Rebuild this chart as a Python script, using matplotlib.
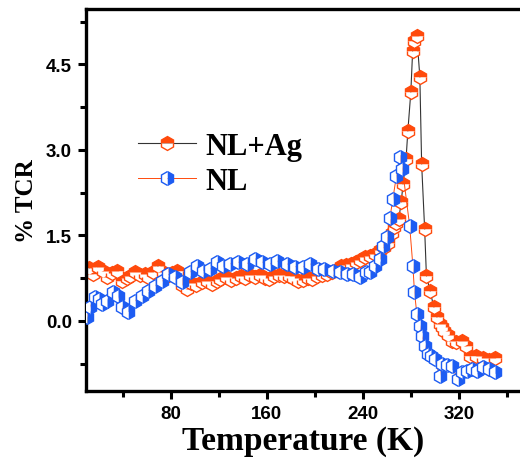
import numpy as np
import matplotlib
matplotlib.use('Agg')
import matplotlib.pyplot as plt
from matplotlib.ticker import MultipleLocator

# NL+Ag  (temperature K, %TCR)
t_ag = [12, 15, 19, 23, 27, 31, 35, 39, 43, 46, 50, 54, 58, 61, 65, 69, 73, 77,
        81, 85, 89, 93, 97, 101, 106, 110, 114, 118, 121, 126, 130, 134, 138,
        142, 146, 150, 154, 158, 162, 166, 170, 174, 178, 182, 186, 190, 194,
        198, 202, 206, 210, 214, 218, 222, 226, 230, 234, 238, 242, 246, 250,
        254, 258, 261, 264, 266, 268, 270, 272, 273.5, 276, 277.5, 280, 281.5,
        283, 285, 287.5, 289, 291.5, 293, 296, 299, 301.5, 304, 306, 308, 311,
        314, 318, 323, 326, 329, 334, 340, 345, 350]
v_ag = [0.92, 0.82, 0.95, 0.88, 0.77, 0.84, 0.88, 0.70, 0.76, 0.79, 0.86, 0.80,
        0.82, 0.77, 0.85, 0.96, 0.86, 0.79, 0.84, 0.88, 0.62, 0.56, 0.66, 0.62,
        0.68, 0.70, 0.65, 0.70, 0.74, 0.77, 0.72, 0.75, 0.79, 0.76, 0.80, 0.77,
        0.80, 0.76, 0.74, 0.78, 0.80, 0.78, 0.79, 0.76, 0.70, 0.72, 0.76, 0.74,
        0.78, 0.80, 0.82, 0.85, 0.90, 0.96, 0.98, 1.00, 1.03, 1.06, 1.12, 1.14,
        1.18, 1.24, 1.30, 1.36, 1.55, 1.65, 1.72, 1.79, 2.09, 2.40, 2.84, 3.33,
        4.02, 4.74, 4.91, 5.00, 4.28, 2.75, 1.61, 0.78, 0.53, 0.25, 0.07, -0.05,
        -0.10, -0.17, -0.25, -0.35, -0.38, -0.36, -0.45, -0.61, -0.62, -0.66,
        -0.68, -0.66]

# NL
t_nl = [10, 12.5, 16.7, 20, 22.5, 26.7, 31.7, 36, 39, 44, 50, 56, 61, 66.7,
        72.5, 77.5, 83, 89, 96, 101.7, 106.7, 112.5, 118, 123, 129, 136, 143,
        150, 156, 162.5, 168, 176.7, 183, 190, 196, 202.5, 208, 215, 221, 226.7,
        231.7, 237.5, 243, 246, 250, 254, 257, 260, 262.5, 265, 268, 271, 273,
        279, 281.7, 283, 285, 287.5, 289, 291.7, 294, 297, 300, 304, 306, 310,
        314, 319, 323, 327, 331, 335, 340, 345, 350]
v_nl = [0.07, 0.25, 0.42, 0.38, 0.30, 0.35, 0.50, 0.44, 0.25, 0.16, 0.35, 0.44,
        0.53, 0.61, 0.70, 0.82, 0.77, 0.68, 0.86, 0.96, 0.88, 0.91, 1.03, 0.97,
        1.00, 1.03, 1.00, 1.09, 1.03, 1.00, 1.05, 1.00, 0.95, 0.95, 1.00, 0.91,
        0.91, 0.88, 0.86, 0.82, 0.82, 0.77, 0.86, 0.86, 0.96, 1.09, 1.32, 1.47,
        1.80, 2.14, 2.55, 2.88, 2.67, 1.67, 0.96, 0.51, 0.12, -0.09, -0.26,
        -0.44, -0.58, -0.62, -0.67, -0.96, -0.75, -0.78, -0.79, -1.02, -0.90,
        -0.88, -0.85, -0.88, -0.81, -0.84, -0.89]

orange = '#ff4a0c'
blue = '#1d5cf2'

plt.rcParams['font.family'] = ['Liberation Sans', 'DejaVu Sans']

fig = plt.figure(figsize=(5.2, 4.6), dpi=100)
ax = fig.add_axes([0.165, 0.148, 0.835, 0.83])

ax.plot(t_ag, v_ag, '-', color='#333333', lw=0.8, marker='h', ms=10,
        mfc=orange, mec=orange, mew=1.0, fillstyle='top', mfcalt='white',
        label='NL+Ag', zorder=2)
ax.plot(t_nl, v_nl, '-', color=orange, lw=0.7, marker='h', ms=10,
        mfc=blue, mec=blue, mew=1.0, fillstyle='right', mfcalt='white',
        label='NL', zorder=3)

ax.set_xlim(9, 371)
ax.set_ylim(-1.23, 5.47)
ax.xaxis.set_major_locator(MultipleLocator(80))
ax.xaxis.set_minor_locator(MultipleLocator(40))
ax.yaxis.set_major_locator(MultipleLocator(1.5))
ax.yaxis.set_minor_locator(MultipleLocator(0.75))
ax.set_yticks([0.0, 1.5, 3.0, 4.5])
ax.set_yticklabels(['0.0', '1.5', '3.0', '4.5'])

for s in ['left', 'bottom', 'top']:
    ax.spines[s].set_linewidth(2.4)
ax.spines['right'].set_visible(False)
ax.tick_params(which='major', direction='out', length=6, width=2.2, pad=4,
               labelsize=13.5, top=False, right=False)
ax.tick_params(which='minor', direction='out', length=4, width=2.2,
               top=False, right=False)
for lab in ax.get_xticklabels() + ax.get_yticklabels():
    lab.set_fontweight('bold')

ax.set_xlabel('Temperature (K)', family='Liberation Serif', fontweight='bold',
              fontsize=24, labelpad=2)
ax.set_ylabel('% TCR', family='Liberation Serif', fontweight='bold',
              fontsize=18, labelpad=6)

leg = ax.legend(loc='upper left', bbox_to_anchor=(138 / 520, 1 - 133 / 460),
                bbox_transform=fig.transFigure, frameon=False, borderpad=0,
                borderaxespad=0, handlelength=1.9, handletextpad=0.3,
                labelspacing=0.2,
                prop={'family': 'Liberation Serif', 'weight': 'bold', 'size': 22})

fig.savefig('out.png', dpi=100)
